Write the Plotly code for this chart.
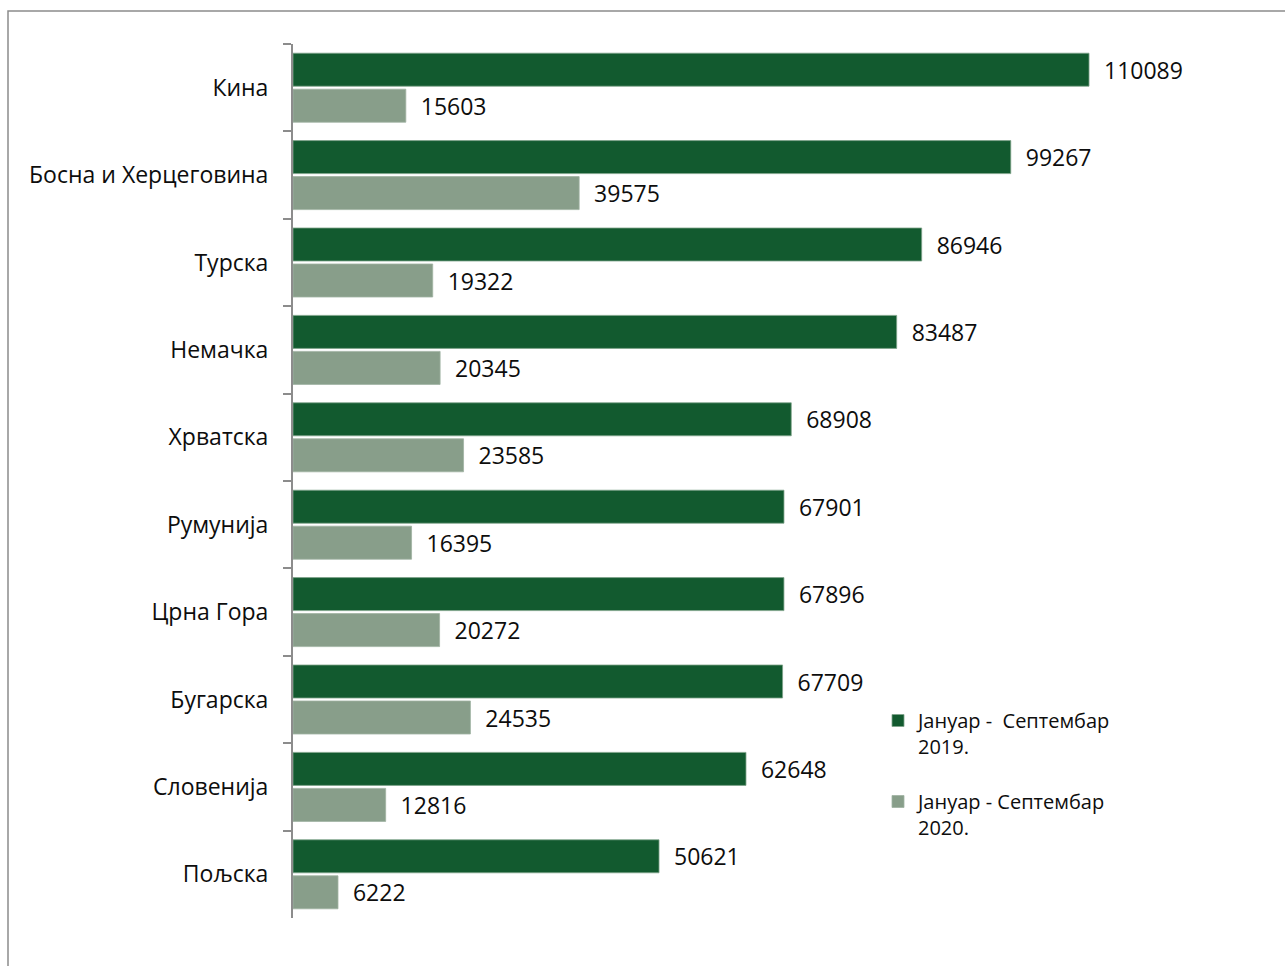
import plotly.graph_objects as go

countries = ["Кина", "Босна и Херцеговина", "Турска", "Немачка", "Хрватска",
             "Румунија", "Црна Гора", "Бугарска", "Словенија", "Пољска"]
values_2019 = [110089, 99267, 86946, 83487, 68908, 67901, 67896, 67709, 62648, 50621]
values_2020 = [15603, 39575, 19322, 20345, 23585, 16395, 20272, 24535, 12816, 6222]
series_names = ["Јануар -\u00a0\u00a0Септембар<br>2019.", "Јануар - Септембар<br>2020."]

DARK = "#125a2f"
LIGHT = "#889e8a"
FONT = "Open Sans"
TXT = "#0d0d0d"

fig = go.Figure()
for vals, name, color, edge, grp in [
    (values_2019, series_names[0], DARK, "#7fa38a", "y2019"),
    (values_2020, series_names[1], LIGHT, "#9fb3a2", "y2020"),
]:
    fig.add_trace(go.Bar(
        y=countries, x=vals, orientation="h", name=name, legendgroup=grp,
        marker=dict(color=color, line=dict(color=edge, width=0.8)),
        text=[str(v) for v in vals], texttemplate="\u00a0\u00a0%{text}",
        textposition="outside",
        textfont=dict(family=FONT, size=23, color=TXT), cliponaxis=False,
    ))

fig.update_layout(
    width=1285, height=966,
    margin=dict(l=293, r=52, t=44, b=48),
    paper_bgcolor="white", plot_bgcolor="white",
    barmode="group", bargap=0.176, bargroupgap=0.083,
    font=dict(family=FONT, size=23, color=TXT),
    showlegend=True,
    legend=dict(
        x=(878 - 293) / 940, y=(918 - 701) / 874, xanchor="left", yanchor="top",
        traceorder="grouped", valign="top",
        font=dict(family=FONT, size=20, color=TXT),
        itemwidth=30, tracegroupgap=26, bgcolor="rgba(0,0,0,0)",
    ),
    xaxis=dict(range=[0, 130000], visible=False, showgrid=False, zeroline=False),
    yaxis=dict(
        autorange="reversed", showgrid=False, zeroline=False,
        showline=True, linecolor="#8c8c8c", linewidth=2,
        ticks="outside", tickson="boundaries", ticklen=8, tickwidth=2,
        tickcolor="#8c8c8c", ticklabelstandoff=18,
        tickfont=dict(family=FONT, size=23, color=TXT),
    ),
    shapes=[dict(
        type="rect", xref="paper", yref="paper",
        x0=(8 - 293) / 940, x1=1.2, y0=-0.2, y1=(918 - 11) / 874,
        line=dict(color="#8c8c8c", width=1.5), fillcolor="rgba(0,0,0,0)", layer="below",
    )],
)

fig.write_html("out.html")
